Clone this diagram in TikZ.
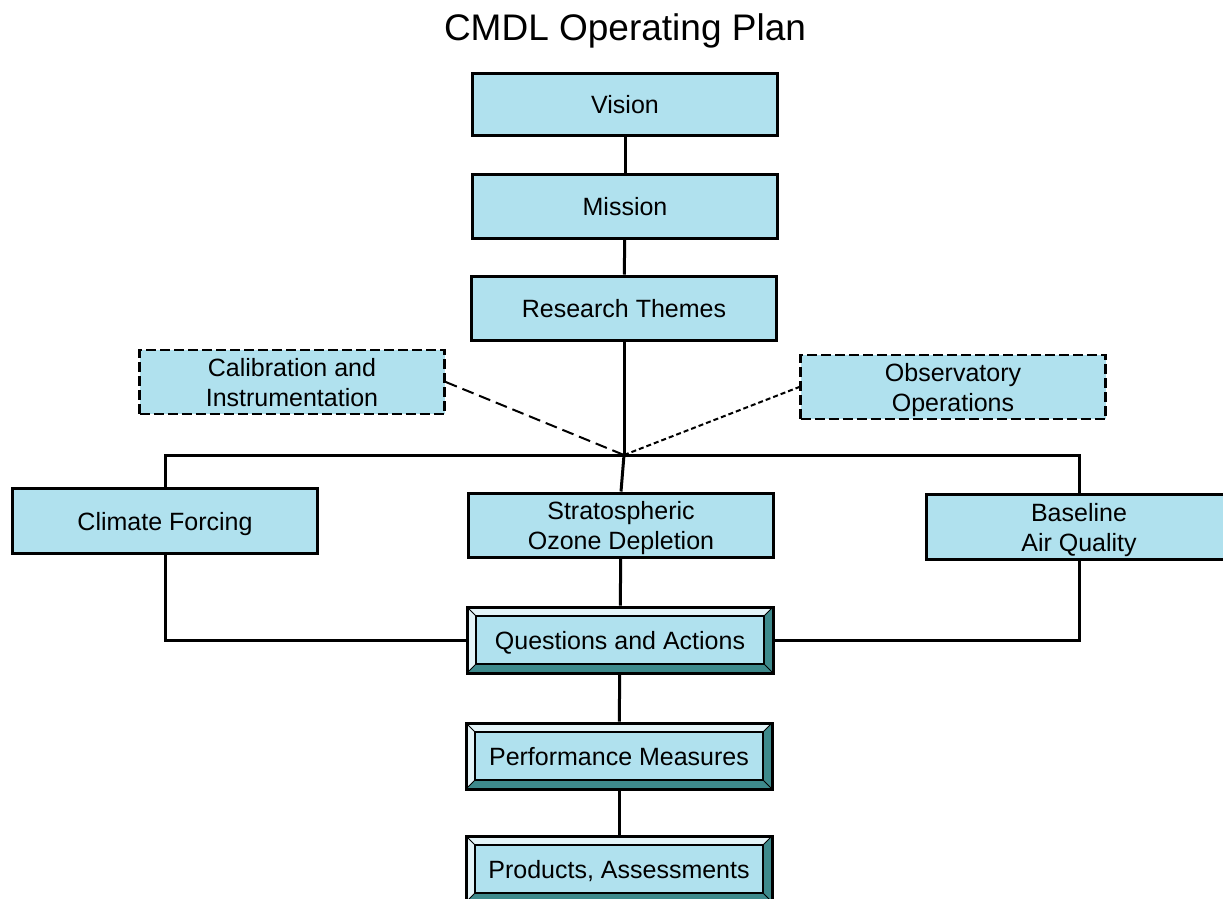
\documentclass[tikz,border=0pt]{standalone}
\usepackage{fontspec}
\setmainfont{Liberation Sans}
\usepackage{tikz}
\usetikzlibrary{positioning}

\definecolor{boxfill}{RGB}{176,225,238}
\definecolor{bevlight}{RGB}{228,244,248}
\definecolor{bevdark}{RGB}{62,138,140}

\begin{document}
\begin{tikzpicture}[x=1pt, y=-1pt,
  font=\fontsize{25}{30}\selectfont,
  line/.style={line width=3pt},
  box/.style={draw, line width=3pt, fill=boxfill, minimum width=305pt, minimum height=64pt, align=center, inner sep=0pt,
    text height=18pt, text depth=0pt},
  two/.style={text height=48pt, text depth=0pt},
  dashbox/.style={box, line width=2.5pt, dash pattern=on 10pt off 4pt},
  bevel/.style={box, minimum width=306pt, minimum height=66pt,
    path picture={
      \fill[bevlight] (path picture bounding box.north west) -- (path picture bounding box.north east)
        -- ([xshift=-9pt,yshift=-9pt]path picture bounding box.north east) -- ([xshift=9pt,yshift=-9pt]path picture bounding box.north west) -- cycle;
      \fill[bevlight] (path picture bounding box.north west) -- (path picture bounding box.south west)
        -- ([xshift=9pt,yshift=9pt]path picture bounding box.south west) -- ([xshift=9pt,yshift=-9pt]path picture bounding box.north west) -- cycle;
      \fill[bevdark] (path picture bounding box.south west) -- (path picture bounding box.south east)
        -- ([xshift=-9pt,yshift=9pt]path picture bounding box.south east) -- ([xshift=9pt,yshift=9pt]path picture bounding box.south west) -- cycle;
      \fill[bevdark] (path picture bounding box.north east) -- (path picture bounding box.south east)
        -- ([xshift=-9pt,yshift=9pt]path picture bounding box.south east) -- ([xshift=-9pt,yshift=-9pt]path picture bounding box.north east) -- cycle;
      \draw[line width=1.8pt] ([xshift=9pt,yshift=-9pt]path picture bounding box.north west) rectangle ([xshift=-9pt,yshift=9pt]path picture bounding box.south east);
      \draw[line width=0.8pt] (path picture bounding box.north west) -- ([xshift=9pt,yshift=-9pt]path picture bounding box.north west);
      \draw[line width=0.8pt] (path picture bounding box.north east) -- ([xshift=-9pt,yshift=-9pt]path picture bounding box.north east);
      \draw[line width=0.8pt] (path picture bounding box.south west) -- ([xshift=9pt,yshift=9pt]path picture bounding box.south west);
      \draw[line width=0.8pt] (path picture bounding box.south east) -- ([xshift=-9pt,yshift=9pt]path picture bounding box.south east);
    }}]
\useasboundingbox (0,0) rectangle (1223,898);

% タイトル
\node[anchor=base, font=\fontsize{37}{44}\selectfont] (title) at (625,40) {CMDL Operating Plan};

% ノード(座標配置)
\node[box, minimum height=62pt] (vision)  at (625,104) {Vision};
\node[box] (mission) at (625,206) {Mission};
\node[box] (themes)  at (624,308) {Research Themes};
\node[dashbox, two] (calib) at (292,382) {Calibration and\\Instrumentation};
\node[dashbox, two] (obs)   at (953,387) {Observatory\\Operations};
\coordinate (jn) at (624,455);
\node[box, minimum height=65pt] (climate) at (165,521) {Climate Forcing};
\node[box, two] (strat)   at (621,525) {Stratospheric\\Ozone Depletion};
\node[box, two, minimum height=65pt] (base) at (1079,527) {Baseline\\Air Quality};
\node[bevel] (qa)    at (620,640) {Questions and Actions};
\node[bevel] (perf)  at (619,756) {Performance Measures};
\node[bevel] (prod)  at (619,869) {Products, Assessments};

% 線
\draw[line] (vision) -- (mission);
\draw[line] (mission) -- (themes);
\draw[line] (themes) -- (jn);
\draw[line] (climate.north) |- (jn) -| (base.north);
\draw[line] (jn) -- (strat.north);
\draw[line] (strat) -- (qa);
\draw[line] (climate.south) |- (qa.west);
\draw[line] (base.south) |- (qa.east);
\draw[line] (qa) -- (perf);
\draw[line] (perf) -- (prod);

% 破線
\draw[line width=2pt, dash pattern=on 12pt off 6pt] (calib.east) -- (jn);
\draw[line width=2pt, dash pattern=on 5pt off 3pt] (jn) -- (obs.west);
\end{tikzpicture}
\end{document}
